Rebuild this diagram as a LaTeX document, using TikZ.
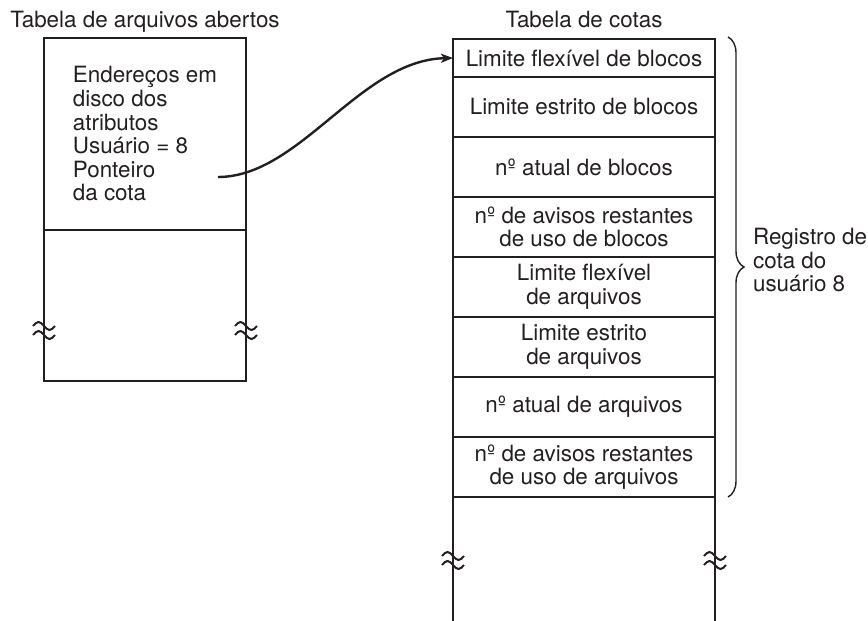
\documentclass[tikz,border=0pt]{standalone}
\usepackage{fontspec}
\setmainfont{TeX Gyre Heros}
\usetikzlibrary{positioning,arrows.meta,decorations.pathreplacing}
\definecolor{tinta}{HTML}{231F20}

\tikzset{
  tabela/.style={line width=1.3pt},
  celula/.style={draw, tabela, minimum width=131pt, minimum height=30pt,
    inner sep=0pt, outer sep=0pt, align=center},
  quebra/.pic={
    \draw[line width=1pt] (-11,-4) sin (-5.5,-8) cos (0,-4) sin (5.5,0) cos (11,-4);
    \draw[line width=1pt] (-11,5) sin (-5.5,1) cos (0,5) sin (5.5,9) cos (11,5);
  },
  chave/.style={decorate, decoration={brace, amplitude=8pt}, line width=0.7pt},
  seta/.style={line width=1.2pt, -{Stealth[length=6pt,width=4.5pt,inset=1.5pt]}}
}

\begin{document}
\begin{tikzpicture}[x=0.5pt, y=-0.5pt, tinta, font=\fontsize{11.2pt}{11.8pt}\selectfont]
    \useasboundingbox (0,0) rectangle (868,621);

    % Tabela de arquivos abertos
    \node[celula, minimum width=101pt, minimum height=96pt, align=left,
        anchor=north west] (ent) at (44,38)
        {Endereços em\\disco dos\\atributos\\Usuário = 8\\Ponteiro\\da cota};
    \draw[tabela] (ent.south west) -- ++(0,151) -| (ent.south east);
    \pic at (44,330) {quebra};
    \pic at (246,330) {quebra};
    \node[anchor=base] (tab1) at (ent.north |- 0,27) {Tabela de arquivos abertos};

    % Tabela de cotas
    \node[celula, minimum height=19pt, anchor=north west] (r1) at (453,39)
        {Limite flexível de blocos};
    \node[celula, below=0pt of r1] (r2) {Limite estrito de blocos};
    \node[celula, below=0pt of r2] (r3) {nº atual de blocos};
    \node[celula, below=0pt of r3] (r4) {nº de avisos restantes\\de uso de blocos};
    \node[celula, below=0pt of r4] (r5) {Limite flexível\\de arquivos};
    \node[celula, below=0pt of r5] (r6) {Limite estrito\\de arquivos};
    \node[celula, below=0pt of r6] (r7) {nº atual de arquivos};
    \node[celula, below=0pt of r7] (r8) {nº de avisos restantes\\de uso de arquivos};
    \node[anchor=base] (tab2) at (r1.north |- 0,27) {Tabela de cotas};

    \draw[tabela] (r8.south west) -- ++(0,124);
    \draw[tabela] (r8.south east) -- ++(0,124);
    \pic at (453,560) {quebra};
    \pic at (715,560) {quebra};

    % Registro
    \draw[chave] ([xshift=6.5pt,yshift=1pt]r1.north east)
        -- ([xshift=6.5pt]r8.south east);
    \node[anchor=west, align=left] (reg) at (746,260)
        {Registro de\\cota do\\usuário 8};

    % Ponteiro
    \coordinate (ptr) at (218,177);
    \draw[seta] (ptr) .. controls (300,177) and (360,60) .. (r1.west);

\end{tikzpicture}
\end{document}
